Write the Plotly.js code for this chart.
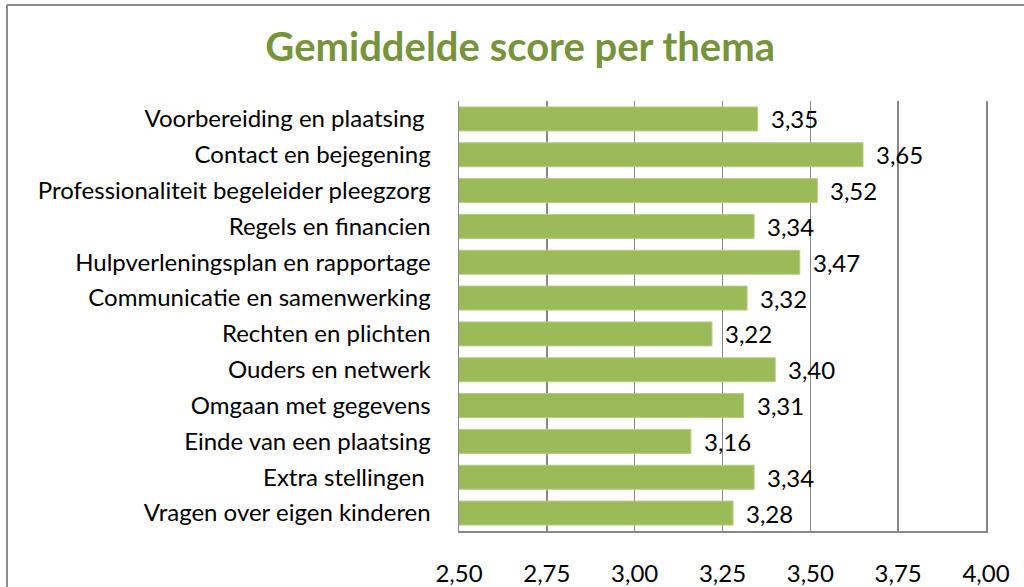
<!DOCTYPE html>
<html>
<head>
<meta charset="utf-8">
<script src="https://cdn.plot.ly/plotly-3.0.1.min.js"></script>
<style>html,body{margin:0;padding:0;background:#fff;}#chart{width:1024px;height:587px;}</style>
</head>
<body>
<div id="chart"></div>
<script>
var categories = [
  "Voorbereiding en plaatsing\u00A0",
  "Contact en bejegening",
  "Professionaliteit begeleider pleegzorg",
  "Regels en financien",
  "Hulpverleningsplan en rapportage",
  "Communicatie en samenwerking",
  "Rechten en plichten",
  "Ouders en netwerk",
  "Omgaan met gegevens",
  "Einde van een plaatsing",
  "Extra stellingen\u00A0",
  "Vragen over eigen kinderen"
];
var scores = [3.35, 3.65, 3.52, 3.34, 3.47, 3.32, 3.22, 3.40, 3.31, 3.16, 3.34, 3.28];
var tickValues = [2.5, 2.75, 3.0, 3.25, 3.5, 3.75, 4.0];
var tickLabels = ["2,50", "2,75", "3,00", "3,25", "3,50", "3,75", "4,00"];

function fmt(v) { return v.toFixed(2).replace(".", ","); }

var FONT = "Lato, 'Open Sans', sans-serif";
var FS = 24;

var trace = {
  type: "bar",
  orientation: "h",
  x: scores,
  y: categories,
  marker: { color: "#9BBB59", line: { color: "#B5CC86", width: 1 } },
  width: 0.67,
  hoverinfo: "x+y"
};

var annotations = scores.map(function (v, i) {
  return {
    x: v, y: categories[i], xref: "x", yref: "y",
    text: fmt(v), showarrow: false, xanchor: "left", yanchor: "middle",
    xshift: 11, yshift: 0, font: { family: FONT, size: FS, color: "#000" }
  };
});

var L = 459, R = 986, T = 101, B = 531;
function px(x) { return (x - L) / (R - L); }
function py(y) { return (B - y) / (B - T); }

var layout = {
  width: 1024, height: 587,
  margin: { l: L, r: 1024 - R, t: T, b: 587 - B },
  paper_bgcolor: "#fff", plot_bgcolor: "#fff",
  showlegend: false,
  title: {
    text: "<b>Gemiddelde score per thema</b>",
    font: { family: FONT, size: 40, color: "#77933C" },
    x: 0.508, xanchor: "center", y: 1 - 47 / 587, yanchor: "middle"
  },
  xaxis: {
    range: [2.5, 4.0],
    tickvals: tickValues, ticktext: tickLabels,
    showgrid: true, gridcolor: "#878787", gridwidth: 1.5,
    zeroline: false, showline: true, linecolor: "#878787", linewidth: 1.5,
    ticks: "", ticklabelstandoff: 21,
    tickfont: { family: FONT, size: FS, color: "#000" },
    fixedrange: true
  },
  yaxis: {
    autorange: "reversed",
    showgrid: false, zeroline: false, showline: true, mirror: true,
    linecolor: "#878787", linewidth: 1.5,
    ticks: "", ticklabelstandoff: 22,
    tickfont: { family: FONT, size: FS, color: "#000" },
    fixedrange: true
  },
  annotations: annotations,
  shapes: [
    { type: "line", xref: "paper", yref: "paper", x0: px(7), x1: px(7), y0: py(5), y1: py(600),
      line: { color: "#8C8C8C", width: 2 } },
    { type: "line", xref: "paper", yref: "paper", x0: px(7), x1: px(1030), y0: py(5), y1: py(5),
      line: { color: "#8C8C8C", width: 2 } }
  ]
};

Plotly.newPlot("chart", [trace], layout, { displayModeBar: false, staticPlot: true });
</script>
</body>
</html>
